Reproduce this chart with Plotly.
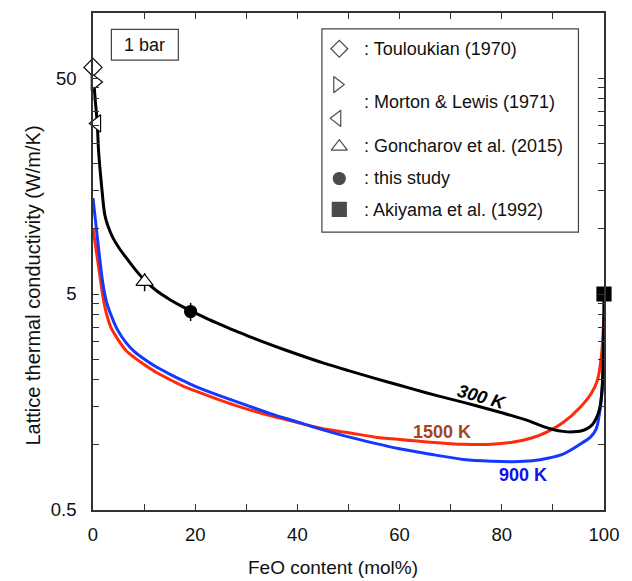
import plotly.graph_objects as go
import numpy as np

# ---------------- data ----------------
# 300 K (black)
x_300 = [0.2, 0.47, 0.83, 1.1, 1.65, 2.3, 2.95, 3.9, 5.2, 6.55, 8.2, 10, 12.5, 15, 17.5, 20, 22.5,
         25, 27.5, 30, 35, 40, 45, 50, 55, 60, 65, 70, 75, 80, 85, 88, 90, 92, 94, 95.5, 96.7,
         97.7, 98.5, 99.2, 99.6, 99.85, 100]
k_300 = [46.5, 38.8, 30.8, 22.8, 16.1, 11.65, 10.29, 9.10, 8.10, 7.33, 6.52, 5.83, 5.16, 4.72,
         4.37, 4.09, 3.83, 3.61, 3.40, 3.22, 2.90, 2.63, 2.40, 2.21, 2.04, 1.89, 1.75, 1.63, 1.52,
         1.41, 1.30, 1.22, 1.18, 1.156, 1.15, 1.16, 1.19, 1.24, 1.33, 1.49, 1.79, 2.45, 5.0]

# 1500 K (red)
x_1500 = [0, 0.65, 1.3, 1.8, 2.2, 2.6, 3.5, 4.8, 6.5, 8, 10, 12.5, 15, 17.5, 20, 25, 30, 35, 40,
          45, 50, 55, 60, 66, 72.5, 78, 82.3, 86, 88.9, 92, 95.4, 97.5, 98.7, 99.5, 100]
k_1500 = [10.1, 7.89, 6.18, 5.11, 4.50, 4.09, 3.50, 3.10, 2.73, 2.55, 2.36, 2.16, 2.01, 1.88,
          1.78, 1.61, 1.47, 1.36, 1.27, 1.19, 1.14, 1.09, 1.06, 1.03, 1.007, 1.007, 1.032, 1.08,
          1.15, 1.27, 1.50, 1.73, 1.99, 2.59, 4.05]

# 900 K (blue)
x_900 = [0, 0.65, 1.3, 1.96, 2.6, 3.3, 4.8, 6.5, 8, 10, 12.5, 15, 17.5, 20, 25, 30, 35, 40, 45,
         50, 55, 60, 66, 72.5, 78, 82.3, 86, 89, 92.1, 95, 97.4, 98.5, 99.3, 99.8, 100]
k_900 = [13.9, 10.1, 7.35, 5.54, 4.64, 4.13, 3.41, 2.97, 2.72, 2.50, 2.29, 2.13, 1.99, 1.87,
         1.685, 1.53, 1.39, 1.28, 1.175, 1.09, 1.02, 0.96, 0.906, 0.857, 0.841, 0.837, 0.845,
         0.868, 0.91, 0.997, 1.09, 1.19, 1.50, 2.095, 3.32]

# literature / measured points
x_touloukian = [0]
k_touloukian = [56]
x_morton_r = [0.4]
k_morton_r = [47.9]
x_morton_l = [0.75]
k_morton_l = [30.8]
x_goncharov = [10.1]
k_goncharov = [5.7]
err_goncharov = [0.55]
x_study = [19.1]
k_study = [4.15]
err_study = [0.4]
x_akiyama = [100]
k_akiyama = [5.0]

# axis ticks
x_tickvals = [0, 10, 20, 30, 40, 50, 60, 70, 80, 90, 100]
x_ticktext = ["0", "", "20", "", "40", "", "60", "", "80", "", "100"]
y_tickvals = [0.5, 1, 1.5, 2, 2.5, 3, 3.5, 4, 4.5, 5, 10, 15, 20, 25, 30, 35, 40, 45, 50]
y_ticktext = ["0.5", "", "", "", "", "", "", "", "", "5", "", "", "", "", "", "", "", "", "50"]

# legend entries
legend_labels = [": Touloukian (1970)", ": Morton & Lewis (1971)", ": Goncharov et al. (2015)",
                 ": this study", ": Akiyama et al. (1992)"]

FONT = "Liberation Sans, Arial, Helvetica, sans-serif"
AX = "#333333"

fig = go.Figure()

line_kw = dict(shape="spline", smoothing=0.8, width=3)
fig.add_trace(go.Scatter(x=x_1500, y=k_1500, mode="lines", line=dict(color="#ff2a0a", **line_kw),
                         showlegend=False))
fig.add_trace(go.Scatter(x=x_900, y=k_900, mode="lines", line=dict(color="#1438ff", **line_kw),
                         showlegend=False))
fig.add_trace(go.Scatter(x=x_300, y=k_300, mode="lines", line=dict(color="#000000", **line_kw),
                         showlegend=False))


def pts(x, y, symbol, size, fill, err=None):
    kw = {}
    if err is not None:
        kw["error_y"] = dict(type="data", array=err, visible=True, color="#000",
                             thickness=1.5, width=0)
    fig.add_trace(go.Scatter(x=x, y=y, mode="markers", cliponaxis=False, showlegend=False,
                             marker=dict(symbol=symbol, size=size, color=fill,
                                         line=dict(color="#000", width=1.2)), **kw))


pts(x_touloukian, k_touloukian, "diamond", 14, "white")
pts(x_morton_r, k_morton_r, "triangle-right", 15, "white")
pts(x_morton_l, k_morton_l, "triangle-left", 15, "white")
pts(x_goncharov, k_goncharov, "triangle-up", 15, "white", err_goncharov)
pts(x_study, k_study, "circle", 12, "black", err_study)
pts(x_akiyama, k_akiyama, "square", 14, "black")

# legend keys on an overlay axis in plot-fraction units
leg_sym = ["diamond", "triangle-right", "triangle-left", "triangle-up", "circle", "square"]
leg_fill = ["white", "white", "white", "white", "black", "black"]
leg_sz = [13, 14, 14, 14, 12, 14]
leg_x = [0.482, 0.478, 0.478, 0.482, 0.482, 0.482]
leg_y = [0.928, 0.856, 0.788, 0.731, 0.667, 0.605]
fig.add_trace(go.Scatter(x=leg_x, y=leg_y, xaxis="x2", yaxis="y2", mode="markers",
                         cliponaxis=False, showlegend=False,
                         marker=dict(symbol=leg_sym, size=leg_sz, color=leg_fill,
                                     line=dict(color="#000", width=1.2))))

ann = []
leg_text_y = [0.9276, 0.8216, 0.7315, 0.6676, 0.6046]
for t, yy in zip(legend_labels, leg_text_y):
    ann.append(dict(x=0.526, y=yy, xref="paper", yref="paper", text=t, showarrow=False,
                    xanchor="left", yanchor="middle", font=dict(size=18, color="#111", family=FONT)))

ann.append(dict(x=0.101, y=0.936, xref="paper", yref="paper", text="1 bar", showarrow=False,
                xanchor="center", yanchor="middle", font=dict(size=18, color="#111", family=FONT)))
ann.append(dict(x=0.761, y=0.227, xref="paper", yref="paper", text="<b><i>300 K</i></b>",
                showarrow=False, textangle=16, xanchor="center", yanchor="middle",
                font=dict(size=18, color="#000", family=FONT)))
ann.append(dict(x=0.683, y=0.157, xref="paper", yref="paper", text="<b>1500 K</b>",
                showarrow=False, xanchor="center", yanchor="middle",
                font=dict(size=18, color="#a5461e", family=FONT)))
ann.append(dict(x=0.841, y=0.071, xref="paper", yref="paper", text="<b>900 K</b>",
                showarrow=False, xanchor="center", yanchor="middle",
                font=dict(size=18, color="#1010e8", family=FONT)))
# axis titles
ann.append(dict(x=(333 - 93.3) / 510.2, y=-(568 - 510) / 499, xref="paper", yref="paper",
                text="FeO content (mol%)", showarrow=False, xanchor="center", yanchor="middle",
                font=dict(size=19, color="#111", family=FONT)))
ann.append(dict(x=-(93.3 - 33) / 510.2, y=(510 - 285) / 499, xref="paper", yref="paper",
                text="Lattice thermal conductivity (W/m/K)", showarrow=False, textangle=-90,
                xanchor="center", yanchor="middle", font=dict(size=20, color="#111", family=FONT)))

shapes = [
    dict(type="rect", xref="paper", yref="paper", x0=0.448, x1=0.950, y0=0.559, y1=0.968,
         line=dict(color="#444", width=1.2), fillcolor="rgba(0,0,0,0)"),
    dict(type="rect", xref="paper", yref="paper", x0=0.036, x1=0.167, y0=0.905, y1=0.967,
         line=dict(color="#444", width=1.2), fillcolor="rgba(0,0,0,0)"),
]

axis_common = dict(showline=True, linecolor=AX, linewidth=1.5, mirror="allticks", ticks="inside",
                   ticklen=6, tickwidth=1.2, tickcolor=AX, showgrid=False, zeroline=False,
                   tickfont=dict(size=18.5, color="#111", family=FONT), tickmode="array")

fig.update_layout(
    width=632, height=581,
    margin=dict(l=93, r=28, t=11, b=71),
    paper_bgcolor="white", plot_bgcolor="white",
    font=dict(family=FONT),
    xaxis=dict(range=[0, 100], tickvals=x_tickvals, ticktext=x_ticktext,
               ticklabelstandoff=7, **axis_common),
    yaxis=dict(type="log", range=[np.log10(0.5), 2], tickvals=y_tickvals, ticktext=y_ticktext,
               ticklabelstandoff=11, **axis_common),
    xaxis2=dict(overlaying="x", range=[0, 1], visible=False, fixedrange=True),
    yaxis2=dict(overlaying="y", range=[0, 1], visible=False, fixedrange=True),
    annotations=ann, shapes=shapes, showlegend=False,
)

fig.write_html("out.html")
